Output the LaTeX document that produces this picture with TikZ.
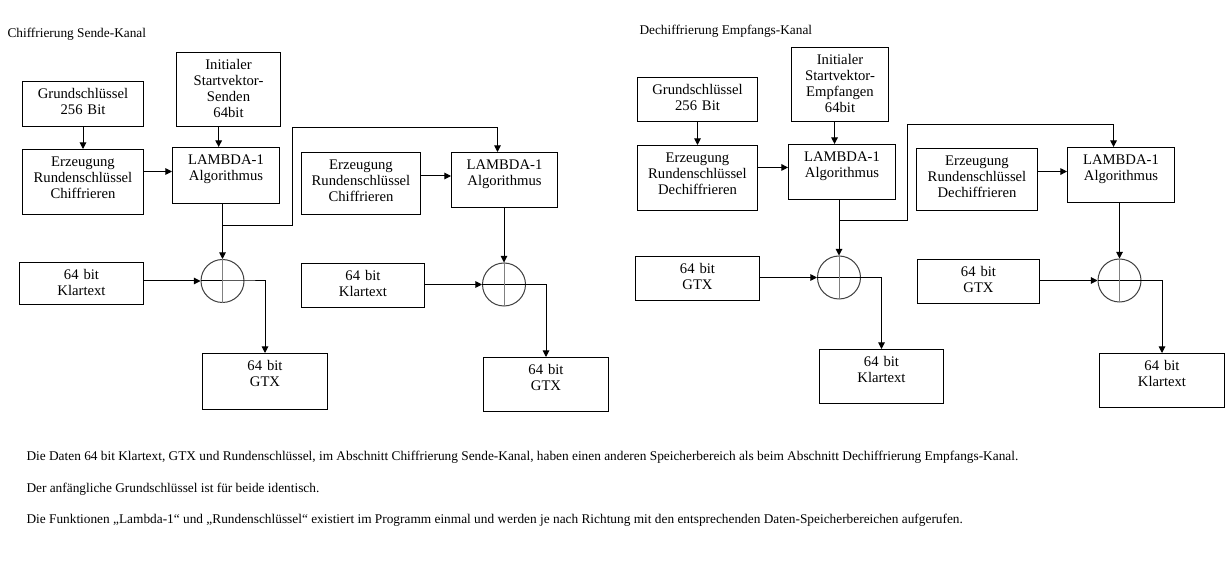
\documentclass[tikz,border=0pt]{standalone}
\usepackage{fontspec}
\setmainfont{Liberation Serif}
\usetikzlibrary{arrows.meta}

\begin{document}
\begin{tikzpicture}[x=0.75pt, y=-0.75pt, line width=0.75pt,
    >={Triangle[length=5pt, width=5pt]},
    block/.style={draw, anchor=north west, align=center, inner sep=0pt,
      text height=12.75pt, font=\fontsize{11}{12}\selectfont},
    xorop/.style={draw=black!75, circle, minimum size=32.25pt, inner sep=0pt},
    caption/.style={anchor=base west, inner sep=0pt, font=\fontsize{10}{12}\selectfont}]
    \path[use as bounding box, fill=white] (0,0) rectangle (1228,566);

    % ---------------------------------------------
    % Chiffrierung Sende-Kanal
    \node[caption] (title1) at (7,38) {Chiffrierung Sende-Kanal};
    \node[block, text width=90.75pt, text depth=21pt] (grund1) at (22,81) {Grundschlüssel\\256 Bit};
    \node[block, text width=78pt, text depth=42.75pt] (init1) at (176,52) {Initialer\\Startvektor-\\Senden\\64bit};
    \node[block, text width=90.75pt, text depth=36pt] (erz1) at (22,149) {Erzeugung\\Rundenschlüssel\\Chiffrieren};
    \node[block, text width=80.25pt, text depth=29.25pt] (lam1) at (172,147) {LAMBDA-1\\Algorithmus};
    \node[block, text width=89.25pt, text depth=33.75pt] (erz2) at (301,152) {Erzeugung\\Rundenschlüssel\\Chiffrieren};
    \node[block, text width=79.5pt, text depth=28.5pt] (lam2) at (451,152) {LAMBDA-1\\Algorithmus};
    \node[block, text width=93pt, text depth=18.75pt] (klar1) at (19,262) {64 bit\\Klartext};
    \node[block, text width=92.25pt, text depth=20.25pt] (klar2) at (301,263) {64 bit\\Klartext};
    \node[block, text width=93.75pt, text depth=29.25pt] (gtx1) at (202,353) {64 bit\\GTX};
    \node[block, text width=93.75pt, text depth=27.75pt] (gtx2) at (483,357) {64 bit\\GTX};
    \node[xorop] (xor1) at (222.5,281) {};
    \node[xorop] (xor2) at (504,284.5) {};

    % draw connections
    \draw[->] (grund1) -- (erz1);
    \draw[->] ([xshift=-5.5pt]lam1.north |- init1.south) -- ([xshift=-5.5pt]lam1.north);
    \draw[->] ([yshift=3pt]erz1.east |- lam1.west) -- ([yshift=3pt]lam1.west);
    \draw[->] (xor1 |- lam1.south) -- (xor1.north);
    \coordinate (split1) at (222.5,226);
    \coordinate (turn1) at (292,128);
    \draw[->] (split1) -| (turn1) -| ([xshift=-5.25pt]lam2.north);
    \draw[->] ([yshift=3pt]erz2.east |- lam2.west) -- ([yshift=3pt]lam2.west);
    \draw[->] (xor2 |- lam2.south) -- (xor2.north);
    \draw[->] (klar1.east |- xor1) -- (xor1.west);
    \draw[->] (klar2.east |- xor2) -- (xor2.west);
    \draw[->] (xor1.west) -- (xor1.east) -| (gtx1.north);
    \draw[->] (xor2.west) -- (xor2.east) -| (gtx2.north);
    \draw[black!50] (xor1.north) -- (xor1.south);
    \draw[black!50] (xor2.north) -- (xor2.south);

    % ---------------------------------------------
    % Dechiffrierung Empfangs-Kanal
    \node[caption] (title2) at (639,34.5) {Dechiffrierung Empfangs-Kanal};
    \node[block, text width=90pt, text depth=20.25pt] (grund3) at (637,77) {Grundschlüssel\\256 Bit};
    \node[block, text width=72.75pt, text depth=42.75pt] (init3) at (791,47) {Initialer\\Startvektor-\\Empfangen\\64bit};
    \node[block, text width=90pt, text depth=36pt] (erz3) at (637,145) {Erzeugung\\Rundenschlüssel\\Dechiffrieren};
    \node[block, text width=80.25pt, text depth=28.5pt] (lam3) at (788,144) {LAMBDA-1\\Algorithmus};
    \node[block, text width=90.75pt, text depth=33.75pt] (erz4) at (916,148) {Erzeugung\\Rundenschlüssel\\Dechiffrieren};
    \node[block, text width=80.25pt, text depth=28.5pt] (lam4) at (1067,147) {LAMBDA-1\\Algorithmus};
    \node[block, text width=93pt, text depth=20.25pt] (gtx3) at (635,256) {64 bit\\GTX};
    \node[block, text width=91.5pt, text depth=20.25pt] (gtx4) at (917,259) {64 bit\\GTX};
    \node[block, text width=93pt, text depth=27.75pt] (klar3) at (819,349) {64 bit\\Klartext};
    \node[block, text width=93.75pt, text depth=27.75pt] (klar4) at (1099,353) {64 bit\\Klartext};
    \node[xorop] (xor3) at (839,277.5) {};
    \node[xorop] (xor4) at (1119.5,280.5) {};

    % draw connections
    \draw[->] (grund3) -- (erz3);
    \draw[->] ([xshift=-5.6pt]lam3.north |- init3.south) -- ([xshift=-5.6pt]lam3.north);
    \draw[->] ([yshift=3.4pt]erz3.east |- lam3.west) -- ([yshift=3.4pt]lam3.west);
    \draw[->] (xor3 |- lam3.south) -- (xor3.north);
    \coordinate (split3) at (839,221);
    \coordinate (turn3) at (907,125);
    \draw[->] (split3) -| (turn3) -| ([xshift=-5.6pt]lam4.north);
    \draw[->] ([yshift=2.6pt]erz4.east |- lam4.west) -- ([yshift=2.6pt]lam4.west);
    \draw[->] (xor4 |- lam4.south) -- (xor4.north);
    \draw[->] (gtx3.east |- xor3) -- (xor3.west);
    \draw[->] (gtx4.east |- xor4) -- (xor4.west);
    \draw[->] (xor3.west) -- (xor3.east) -| (klar3.north);
    \draw[->] (xor4.west) -- (xor4.east) -| (klar4.north);
    \draw[black!50] (xor3.north) -- (xor3.south);
    \draw[black!50] (xor4.north) -- (xor4.south);

    % notes
    \node[caption] (note1) at (26,460) {Die Daten 64 bit Klartext, GTX und Rundenschlüssel, im Abschnitt Chiffrierung Sende-Kanal, haben einen anderen Speicherbereich als beim Abschnitt Dechiffrierung Empfangs-Kanal.};
    \node[caption] (note2) at (26,492.7) {Der anfängliche Grundschlüssel ist für beide identisch.};
    \node[caption] (note3) at (26,523) {Die Funktionen „Lambda-1“ und „Rundenschlüssel“ existiert im Programm einmal und werden je nach Richtung mit den entsprechenden Daten-Speicherbereichen aufgerufen.};

  \end{tikzpicture}
\end{document}
